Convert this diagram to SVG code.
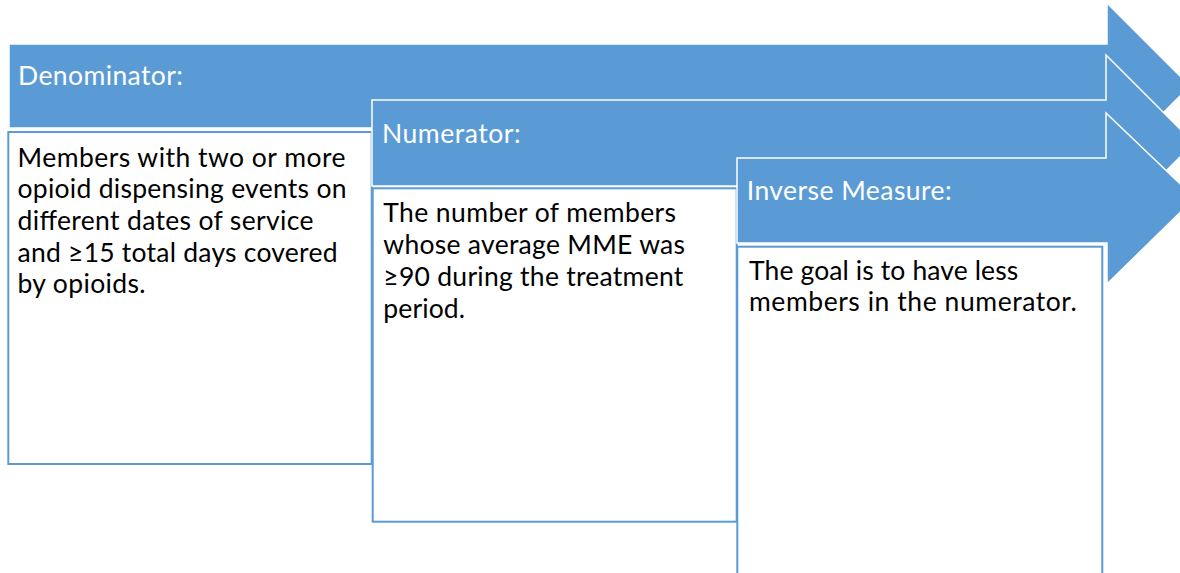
<svg xmlns="http://www.w3.org/2000/svg" width="1180" height="573" viewBox="0 0 1180 573">
  <style>
    .arrow { fill: #5B9BD5; stroke: #FFFFFF; stroke-width: 1.5; }
    .box { fill: #FFFFFF; stroke: #5B9BD5; stroke-width: 2; }
    .head { font-family: Lato, "Liberation Sans", sans-serif; font-size: 26.5px; fill: #FFFFFF; }
    .body { font-family: Lato, "Liberation Sans", sans-serif; font-size: 26.5px; fill: #000000; }
  </style>
  <rect x="0" y="0" width="1180" height="573" fill="#FFFFFF"/>
  <g id="connectors"></g>
  <g id="denominator">
    <path class="arrow" d="M9,44 H1107 V3 L1190,86 L1107,169 V128 H9 Z"/>
    <text class="head" x="18" y="85" textLength="165" lengthAdjust="spacing">Denominator:</text>
    <rect class="box" x="8.3" y="132" width="363.4" height="332"/>
    <text class="body" x="17.5" textLength="328" lengthAdjust="spacing" y="166.5">Members with two or more</text>
    <text class="body" x="17.5" textLength="329" lengthAdjust="spacing" y="198.2">opioid dispensing events on</text>
    <text class="body" x="17.5" textLength="296" lengthAdjust="spacing" y="230">different dates of service</text>
    <text class="body" x="17.5" textLength="320" lengthAdjust="spacing" y="261.7">and ≥15 total days covered</text>
    <text class="body" x="17.5" textLength="128" lengthAdjust="spacing" y="293.4">by opioids.</text>
  </g>
  <g id="numerator">
    <path class="arrow" d="M372,100 H1106 V55 L1194,143 L1106,231 V186 H372 Z"/>
    <text class="head" x="382" y="142.7" textLength="138.7" lengthAdjust="spacing">Numerator:</text>
    <rect class="box" x="372.7" y="188.3" width="364" height="333.4"/>
    <text class="body" x="383.3" textLength="292.7" lengthAdjust="spacing" y="222.3">The number of members</text>
    <text class="body" x="383.3" textLength="301.7" lengthAdjust="spacing" y="254.3">whose average MME was</text>
    <text class="body" x="383.3" textLength="300" lengthAdjust="spacing" y="286.3">≥90 during the treatment</text>
    <text class="body" x="383.3" textLength="81.7" lengthAdjust="spacing" y="318.3">period.</text>
  </g>
  <g id="inverse-measure">
    <path class="arrow" d="M737,158 H1106 V113 L1195,198 L1107,284 V243 H737 Z"/>
    <text class="head" x="746.7" y="200" textLength="205" lengthAdjust="spacing">Inverse Measure:</text>
    <rect class="box" x="737.3" y="246.7" width="365" height="345"/>
    <text class="body" x="749" textLength="269.3" lengthAdjust="spacing" y="280">The goal is to have less</text>
    <text class="body" x="749" textLength="327.7" lengthAdjust="spacing" y="311.3">members in the numerator.</text>
  </g>
</svg>
